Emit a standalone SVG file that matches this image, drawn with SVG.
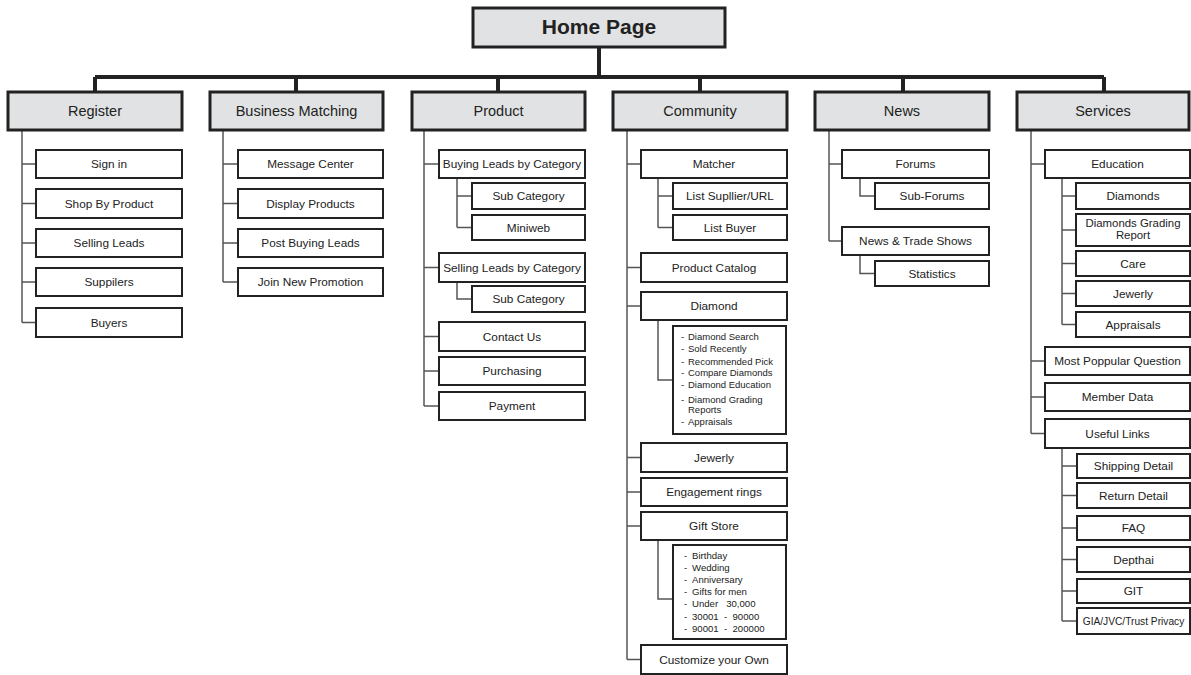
<svg xmlns="http://www.w3.org/2000/svg" width="1191" height="675" viewBox="0 0 1191 675">
<style>
text{font-family:"Liberation Sans",Arial,sans-serif;fill:#222;text-anchor:middle}
.home rect{fill:#e1e2e3;stroke:#222;stroke-width:3}
.home text{font-size:21px;font-weight:bold}
.l1 rect{fill:#e1e2e3;stroke:#222;stroke-width:3}
.l1 text{font-size:14.5px}
.b rect{fill:#fff;stroke:#222;stroke-width:2}
.b text{font-size:11.8px}
.lst text{font-size:9.5px;text-anchor:start}
.g text{font-size:9.6px;text-anchor:start}
.main{stroke:#222;stroke-width:4;fill:none}
.c{stroke:#555;stroke-width:1.5;fill:none}
</style>
<rect width="1191" height="675" fill="#fff"/>
<g id="connectors">
<path class="main" d="M599 47V77M95 77H1104M95 77V92M296 77V92M498 77V92M700 77V92M903 77V92M1104 77V92"/>
<path class="c" d="M22 130V322.5M22 164H36M22 203.5H36M22 243H36M22 282H36M22 322.5H36"/>
<path class="c" d="M223 130V282M223 164H238M223 203.5H238M223 243H238M223 282H238"/>
<path class="c" d="M424 130V406M424 164H439M424 267.5H439M424 336.5H439M424 371H439M424 406H439M457 178V227.5M457 196H472M457 227.5H472M457 282V299H472"/>
<path class="c" d="M627 130V659.5M627 164H641M627 267.5H641M627 306H641M627 457.5H641M627 492H641M627 526H641M627 659.5H641M658 178V227.5M658 196H673M658 227.5H673M658 320V380H673M658 540V599H673"/>
<path class="c" d="M829 130V241M829 164H842M829 241H842M860 178V196H875M860 255V273.5H875"/>
<path class="c" d="M1031 130V433.5M1031 164H1045M1031 361H1045M1031 397H1045M1031 433.5H1045M1062 178V324.5M1062 196H1076M1062 230H1076M1062 263.5H1076M1062 293.5H1076M1062 324.5H1076M1062 448V621M1062 466H1077M1062 495.5H1077M1062 528H1077M1062 559.5H1077M1062 591H1077M1062 621H1077"/>
</g>
<g id="home" class="home"><rect x="473" y="8" width="252" height="39"/><text x="599" y="34">Home Page</text></g>
<g id="register" class="l1"><rect x="8" y="92" width="174" height="38"/><text x="95" y="116">Register</text></g>
<g id="business" class="l1"><rect x="210" y="92" width="173" height="38"/><text x="296.5" y="116">Business Matching</text></g>
<g id="product" class="l1"><rect x="412" y="92" width="173" height="38"/><text x="498.5" y="116">Product</text></g>
<g id="community" class="l1"><rect x="613" y="92" width="174" height="38"/><text x="700" y="116">Community</text></g>
<g id="news" class="l1"><rect x="815" y="92" width="174" height="38"/><text x="902" y="116">News</text></g>
<g id="services" class="l1"><rect x="1017" y="92" width="172" height="38"/><text x="1103" y="116">Services</text></g>

<g id="signin" class="b"><rect x="36" y="150" width="146" height="28"/><text x="109" y="168">Sign in</text></g>
<g id="shop" class="b"><rect x="36" y="189" width="146" height="29"/><text x="109" y="207.5">Shop By Product</text></g>
<g id="sellingleads" class="b"><rect x="36" y="229" width="146" height="28"/><text x="109" y="247">Selling Leads</text></g>
<g id="suppliers" class="b"><rect x="36" y="268" width="146" height="28"/><text x="109" y="286">Suppilers</text></g>
<g id="buyers" class="b"><rect x="36" y="308" width="146" height="29"/><text x="109" y="326.5">Buyers</text></g>

<g id="message" class="b"><rect x="238" y="150" width="145" height="28"/><text x="310.5" y="168">Message Center</text></g>
<g id="display" class="b"><rect x="238" y="189" width="145" height="29"/><text x="310.5" y="207.5">Display Products</text></g>
<g id="post" class="b"><rect x="238" y="229" width="145" height="28"/><text x="310.5" y="247">Post Buying Leads</text></g>
<g id="join" class="b"><rect x="238" y="268" width="145" height="28"/><text x="310.5" y="286">Join New Promotion</text></g>

<g id="buyingcat" class="b"><rect x="439" y="150" width="146" height="28"/><text x="512" y="168">Buying Leads by Category</text></g>
<g id="subcat1" class="b"><rect x="472" y="183" width="113" height="26"/><text x="528.5" y="200">Sub Category</text></g>
<g id="miniweb" class="b"><rect x="472" y="215" width="113" height="25"/><text x="528.5" y="231.5">Miniweb</text></g>
<g id="sellingcat" class="b"><rect x="439" y="253" width="146" height="29"/><text x="512" y="271.5">Selling Leads by Category</text></g>
<g id="subcat2" class="b"><rect x="472" y="286" width="113" height="26"/><text x="528.5" y="303">Sub Category</text></g>
<g id="contact" class="b"><rect x="439" y="322" width="146" height="29"/><text x="512" y="340.5">Contact Us</text></g>
<g id="purchasing" class="b"><rect x="439" y="357" width="146" height="28"/><text x="512" y="375">Purchasing</text></g>
<g id="payment" class="b"><rect x="439" y="392" width="146" height="28"/><text x="512" y="410">Payment</text></g>

<g id="matcher" class="b"><rect x="641" y="150" width="146" height="28"/><text x="714" y="168">Matcher</text></g>
<g id="listsup" class="b"><rect x="673" y="183" width="114" height="26"/><text x="730" y="200">List Supllier/URL</text></g>
<g id="listbuyer" class="b"><rect x="673" y="215" width="114" height="25"/><text x="730" y="231.5">List Buyer</text></g>
<g id="catalog" class="b"><rect x="641" y="253" width="146" height="29"/><text x="714" y="271.5">Product Catalog</text></g>
<g id="diamond" class="b"><rect x="641" y="292" width="146" height="28"/><text x="714" y="310">Diamond</text></g>
<g id="diamondlist" class="b lst"><rect x="673" y="326" width="113" height="108"/>
<text x="681" y="340">-<tspan x="688">Diamond Search</tspan></text>
<text x="681" y="351.5">-<tspan x="688">Sold Recently</tspan></text>
<text x="681" y="364.5">-<tspan x="688">Recommended Pick</tspan></text>
<text x="681" y="376">-<tspan x="688">Compare Diamonds</tspan></text>
<text x="681" y="388">-<tspan x="688">Diamond Education</tspan></text>
<text x="681" y="402.5">-<tspan x="688">Diamond Grading</tspan></text>
<text x="688" y="413">Reports</text>
<text x="681" y="424.5">-<tspan x="688">Appraisals</tspan></text>
</g>
<g id="jewerly" class="b"><rect x="641" y="443" width="146" height="29"/><text x="714" y="461.5">Jewerly</text></g>
<g id="engagement" class="b"><rect x="641" y="478" width="146" height="28"/><text x="714" y="496">Engagement rings</text></g>
<g id="gift" class="b"><rect x="641" y="512" width="146" height="28"/><text x="714" y="530">Gift Store</text></g>
<g id="giftlist" class="b g"><rect x="673" y="545" width="113" height="94"/>
<text x="684" y="558.5">-<tspan x="692">Birthday</tspan></text>
<text x="684" y="570.7">-<tspan x="692">Wedding</tspan></text>
<text x="684" y="582.9">-<tspan x="692">Anniversary</tspan></text>
<text x="684" y="595.1">-<tspan x="692">Gifts for men</tspan></text>
<text x="684" y="607.3" xml:space="preserve">-<tspan x="692">Under   30,000</tspan></text>
<text x="684" y="619.5" xml:space="preserve">-<tspan x="692">30001  -  90000</tspan></text>
<text x="684" y="631.7" xml:space="preserve">-<tspan x="692">90001  -  200000</tspan></text>
</g>
<g id="customize" class="b"><rect x="641" y="645" width="146" height="29"/><text x="714" y="663.5">Customize your Own</text></g>

<g id="forums" class="b"><rect x="842" y="150" width="147" height="28"/><text x="915.5" y="168">Forums</text></g>
<g id="subforums" class="b"><rect x="875" y="183" width="114" height="26"/><text x="932" y="200">Sub-Forums</text></g>
<g id="newstrade" class="b"><rect x="842" y="227" width="147" height="28"/><text x="915.5" y="245">News &amp; Trade Shows</text></g>
<g id="statistics" class="b"><rect x="875" y="261" width="114" height="25"/><text x="932" y="277.5">Statistics</text></g>

<g id="education" class="b"><rect x="1045" y="150" width="145" height="28"/><text x="1117.5" y="168">Education</text></g>
<g id="diamonds" class="b"><rect x="1076" y="183" width="114" height="26"/><text x="1133" y="200">Diamonds</text></g>
<g id="dgr" class="b"><rect x="1076" y="214" width="114" height="32"/><text x="1133" y="226.5" style="font-size:11.4px">Diamonds Grading</text><text x="1133" y="239" style="font-size:11.4px">Report</text></g>
<g id="care" class="b"><rect x="1076" y="251" width="114" height="25"/><text x="1133" y="267.5">Care</text></g>
<g id="sjewerly" class="b"><rect x="1076" y="281" width="114" height="25"/><text x="1133" y="297.5">Jewerly</text></g>
<g id="appraisals" class="b"><rect x="1076" y="312" width="114" height="25"/><text x="1133" y="328.5">Appraisals</text></g>
<g id="popular" class="b"><rect x="1045" y="347" width="145" height="28"/><text x="1117.5" y="365">Most Poppular Question</text></g>
<g id="member" class="b"><rect x="1045" y="383" width="145" height="28"/><text x="1117.5" y="401">Member Data</text></g>
<g id="useful" class="b"><rect x="1045" y="419" width="145" height="29"/><text x="1117.5" y="437.5">Useful Links</text></g>
<g id="shipping" class="b"><rect x="1077" y="454" width="113" height="24"/><text x="1133.5" y="470">Shipping Detail</text></g>
<g id="return" class="b"><rect x="1077" y="483" width="113" height="25"/><text x="1133.5" y="499.5">Return Detail</text></g>
<g id="faq" class="b"><rect x="1077" y="516" width="113" height="24"/><text x="1133.5" y="532">FAQ</text></g>
<g id="depthai" class="b"><rect x="1077" y="547" width="113" height="25"/><text x="1133.5" y="563.5">Depthai</text></g>
<g id="git" class="b"><rect x="1077" y="579" width="113" height="24"/><text x="1133.5" y="595">GIT</text></g>
<g id="gia" class="b"><rect x="1077" y="608" width="113" height="26"/><text x="1133.5" y="625" style="font-size:10.2px">GIA/JVC/Trust Privacy</text></g>
</svg>
